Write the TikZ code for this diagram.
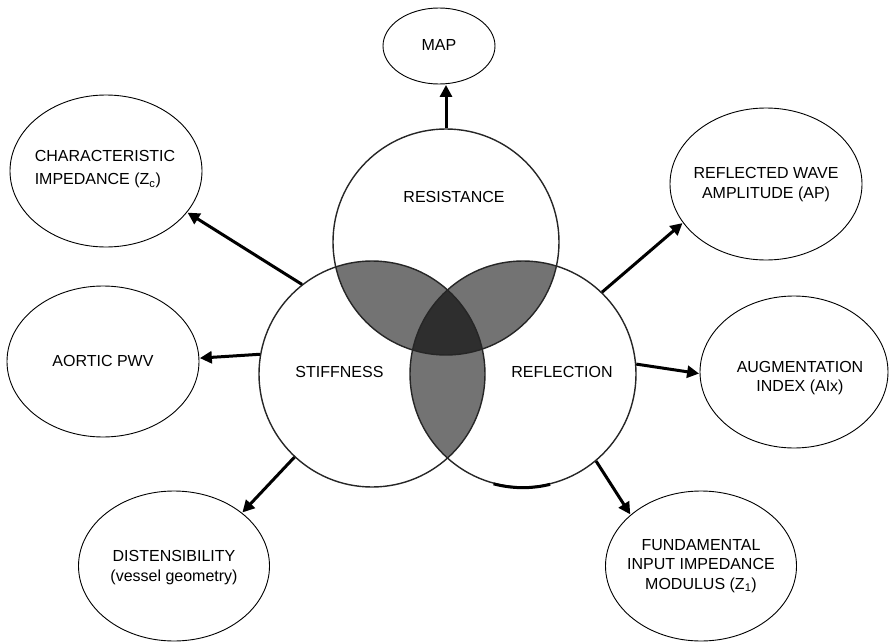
\documentclass[tikz,border=0pt]{standalone}
\usepackage{fontspec}
\setmainfont{Liberation Sans}
\usetikzlibrary{arrows.meta,shapes.geometric}
\begin{document}
\begin{tikzpicture}[x=1pt,y=-1pt,
  bigcircle/.style={circle,draw=black!85,line width=1.4pt,minimum size=226pt,inner sep=0pt},
  oval/.style={ellipse,draw=black,line width=0.9pt,inner sep=0pt},
  lbl/.style={inner sep=0pt,font=\fontsize{16pt}{19.3pt}\selectfont,align=center},
  lensfill/.style={fill=black!55},
  corefill/.style={fill=black!82},
  arr/.style={line width=3pt,-{Triangle[length=12pt,width=12pt]},shorten >=0.5pt}
]
\useasboundingbox (0,0) rectangle (889,642);
\fill[white] (0,0) rectangle (889,642);
\coordinate (cR) at (446,242);
\coordinate (cS) at (372,374);
\coordinate (cF) at (523,374);
% shaded overlaps
\begin{scope}
  \clip (cR) circle[radius=113pt];
  \fill[lensfill] (cS) circle[radius=113pt];
  \fill[lensfill] (cF) circle[radius=113pt];
\end{scope}
\begin{scope}
  \clip (cS) circle[radius=113pt];
  \fill[lensfill] (cF) circle[radius=113pt];
\end{scope}
\begin{scope}
  \clip (cR) circle[radius=113pt];
  \clip (cS) circle[radius=113pt];
  \fill[corefill] (cF) circle[radius=113pt];
\end{scope}
% circles
\node[bigcircle] (res) at (cR) {};
\node[bigcircle] (stf) at (cS) {};
\node[bigcircle] (rfl) at (cF) {};
\draw[line width=3pt] (rfl.-105) arc[start angle=-105,end angle=-76,radius=113pt];
\node[lbl] (resT) at (454,197) {RESISTANCE};
\node[lbl] (stfT) at (339.5,372) {STIFFNESS};
\node[lbl] (rflT) at (562,372) {REFLECTION};
% outer ellipses
\node[oval,minimum width=112pt,minimum height=76pt] (map) at (439,46) {};
\node[oval,minimum width=192pt,minimum height=152pt] (chr) at (106,171) {};
\node[oval,minimum width=192pt,minimum height=152pt] (ap) at (766,184) {};
\node[oval,minimum width=192pt,minimum height=151pt] (pwv) at (103,361.5) {};
\node[oval,minimum width=188pt,minimum height=152pt] (aix) at (794,372) {};
\node[oval,minimum width=191pt,minimum height=150pt] (dst) at (174,566) {};
\node[oval,minimum width=191pt,minimum height=150pt] (zone) at (701,566) {};
% texts
\node[lbl] (mapT) at (439,45) {MAP};
\node[lbl,align=left] (chrT) at (105,169) {CHARACTERISTIC\\[4pt]IMPEDANCE (Z\textsubscript{c})};
\node[lbl] (apT) at (766,184.5) {REFLECTED WAVE\\AMPLITUDE (AP)};
\node[lbl] (pwvT) at (103,361) {AORTIC PWV};
\node[lbl] (aixT) at (800,378) {AUGMENTATION\\INDEX (AIx)};
\node[lbl] (dstT) at (174,567.5) {DISTENSIBILITY\\(vessel geometry)};
\node[lbl] (zoneT) at (701,566) {FUNDAMENTAL\\INPUT IMPEDANCE\\MODULUS (Z\textsubscript{1})};
% arrows
\draw[arr] (res.north) -- (res.north |- map.south);
\draw[arr] (stf.128.8) -- (chr.-27);
\draw[arr] (rfl.46.8) -- (ap.205.2);
\draw[arr] (stf.170.4) -- (pwv.2);
\draw[arr] (rfl.5.6) -- (aix.181);
\draw[arr] (stf.227.4) -- (dst.38);
\draw[arr] (rfl.-50) -- (zone.144.2);
\end{tikzpicture}
\end{document}
